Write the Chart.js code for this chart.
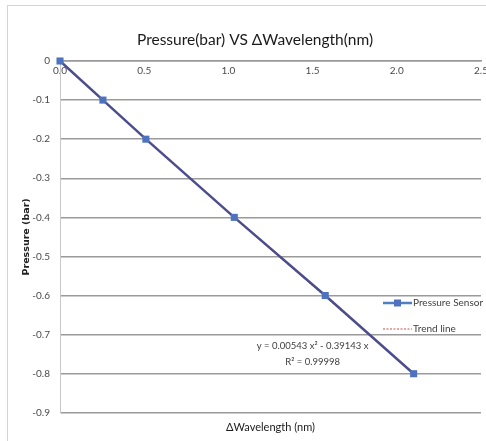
<!DOCTYPE html>
<html>
<head>
<meta charset="utf-8">
<script src="https://cdn.jsdelivr.net/npm/chart.js@4/dist/chart.umd.min.js"></script>
<style>
  html, body { margin: 0; padding: 0; background: #fff; }
  #wrap { width: 486px; height: 441px; position: relative; }
</style>
</head>
<body>
<div id="wrap"><canvas id="c" width="486" height="441"></canvas></div>
<script>
// Pressure vs delta wavelength
const wavelengthShift = [0, 0.255, 0.51, 1.035, 1.575, 2.1];
const pressureSensor = [0, -0.1, -0.2, -0.4, -0.6, -0.8];
const trendLine = [0, -0.0995, -0.1982, -0.4003, -0.6030, -0.7980];

const xTickValues = [0, 0.5, 1.0, 1.5, 2.0, 2.5];
const xTickLabels = ['0.0', '0.5', '1.0', '1.5', '2.0', '2.5'];
const yTickValues = [0, -0.1, -0.2, -0.3, -0.4, -0.5, -0.6, -0.7, -0.8, -0.9];
const yTickLabels = ['0', '-0.1', '-0.2', '-0.3', '-0.4', '-0.5', '-0.6', '-0.7', '-0.8', '-0.9'];

const seriesNames = ['Pressure Sensor', 'Trend line'];
const equationLines = ['y = 0.00543 x\u00b2 - 0.39143 x', 'R\u00b2 = 0.99998'];

const FONT = 'Lato, "Open Sans", sans-serif';
const LEFT_PAD = 29;
const RIGHT_PAD = 5;

// light frame around the whole chart
const framePlugin = {
    id: 'frame',
    beforeDraw(chart) {
        const ctx = chart.ctx;
        ctx.save();
        ctx.strokeStyle = '#d4d4d4';
        ctx.lineWidth = 1;
        ctx.strokeRect(7.5, 5.5, 600, 600);
        ctx.restore();
    }
};

// legend and trendline equation drawn inside the plot area
const notesPlugin = {
    id: 'notes',
    afterDraw(chart) {
        const ctx = chart.ctx;
        const area = chart.chartArea;
        const ds = chart.data.datasets;
        ctx.save();

        // legend
        const lx = area.right - 98;
        const ly1 = area.top + 242;
        const ly2 = area.top + 268;
        ctx.strokeStyle = '#4f7fc0';
        ctx.lineWidth = 2.5;
        ctx.beginPath();
        ctx.moveTo(lx, ly1);
        ctx.lineTo(lx + 29, ly1);
        ctx.stroke();
        ctx.fillStyle = ds[0].pointBackgroundColor;
        ctx.fillRect(lx + 11, ly1 - 3.5, 7, 7);

        ctx.strokeStyle = ds[1].borderColor;
        ctx.lineWidth = 1;
        ctx.setLineDash([2, 1.5]);
        ctx.beginPath();
        ctx.moveTo(lx, ly2);
        ctx.lineTo(lx + 29, ly2);
        ctx.stroke();
        ctx.setLineDash([]);

        ctx.fillStyle = '#404040';
        ctx.font = '10px ' + FONT;
        ctx.textAlign = 'left';
        ctx.textBaseline = 'middle';
        ctx.fillText(ds[0].label, lx + 30, ly1);
        ctx.fillText(ds[1].label, lx + 30, ly2);

        // equation
        const ex = chart.scales.x.getPixelForValue(1.5);
        const ey = chart.scales.y.getPixelForValue(-0.729);
        ctx.font = '9.5px ' + FONT;
        ctx.textAlign = 'center';
        ctx.fillText(equationLines[0], ex, ey);
        ctx.fillText(equationLines[1], ex, ey + 16);
        ctx.restore();
    }
};

const chart = new Chart(document.getElementById('c').getContext('2d'), {
    type: 'line',
    data: {
        datasets: [
            {
                label: seriesNames[0],
                data: wavelengthShift.map((x, i) => ({ x: x, y: pressureSensor[i] })),
                borderColor: '#4d4c8c',
                borderWidth: 2.5,
                pointStyle: 'rect',
                pointRadius: 5,
                pointBackgroundColor: '#4f72c0',
                pointBorderColor: '#4f72c0',
                pointBorderWidth: 0,
                tension: 0,
                clip: false
            },
            {
                label: seriesNames[1],
                data: wavelengthShift.map((x, i) => ({ x: x, y: trendLine[i] })),
                borderColor: '#c0504d',
                borderWidth: 1,
                borderDash: [2, 1.5],
                pointRadius: 0,
                tension: 0.4,
                cubicInterpolationMode: 'monotone',
                clip: false
            }
        ]
    },
    options: {
        responsive: false,
        animation: false,
        layout: { padding: { left: LEFT_PAD, right: RIGHT_PAD, top: 0, bottom: 0 } },
        plugins: {
            legend: { display: false },
            tooltip: { enabled: false },
            title: {
                display: true,
                text: 'Pressure(bar) VS \u0394Wavelength(nm)',
                color: '#1a1a1a',
                font: { family: FONT, size: 15.5, weight: 'normal' },
                padding: { top: 31, bottom: 11.4 }
            },
            subtitle: {
                display: true,
                position: 'bottom',
                fullSize: false,
                text: '\u0394Wavelength (nm)',
                color: '#1a1a1a',
                font: { family: FONT, size: 11, weight: 'normal' },
                padding: { top: 8, bottom: 7 }
            }
        },
        scales: {
            x: {
                type: 'linear',
                position: { y: 0 },
                min: 0,
                max: 2.5,
                afterBuildTicks: s => { s.ticks = xTickValues.map(v => ({ value: v })); },
                afterFit: s => { s.paddingRight = 0; s.paddingLeft = 0; },
                ticks: {
                    padding: 4,
                    color: '#4a4a4a',
                    font: { family: FONT, size: 10 },
                    callback: (v, i) => xTickLabels[i]
                },
                grid: { display: false, drawTicks: false },
                border: { display: true, color: '#9a9a9a', width: 1.5 }
            },
            y: {
                type: 'linear',
                min: -0.9,
                max: 0,
                afterBuildTicks: s => { s.ticks = yTickValues.slice().reverse().map(v => ({ value: v })); },
                afterFit: s => { s.width = 60 - LEFT_PAD; },
                ticks: {
                    padding: 10,
                    color: '#4a4a4a',
                    font: { family: FONT, size: 10 },
                    callback: v => yTickLabels[yTickValues.findIndex(t => Math.abs(t - v) < 1e-9)]
                },
                grid: { color: '#9a9a9a', lineWidth: 1.5, drawTicks: false },
                border: { display: true, color: '#c8c8c8', width: 1 },
                title: {
                    display: true,
                    text: 'Pressure (bar)',
                    color: '#222',
                    font: { family: '"DejaVu Sans"', size: 9.5, weight: 'bold' },
                    padding: { top: -8, bottom: 0 }
                }
            }
        }
    },
    plugins: [framePlugin, notesPlugin]
});
</script>
</body>
</html>
